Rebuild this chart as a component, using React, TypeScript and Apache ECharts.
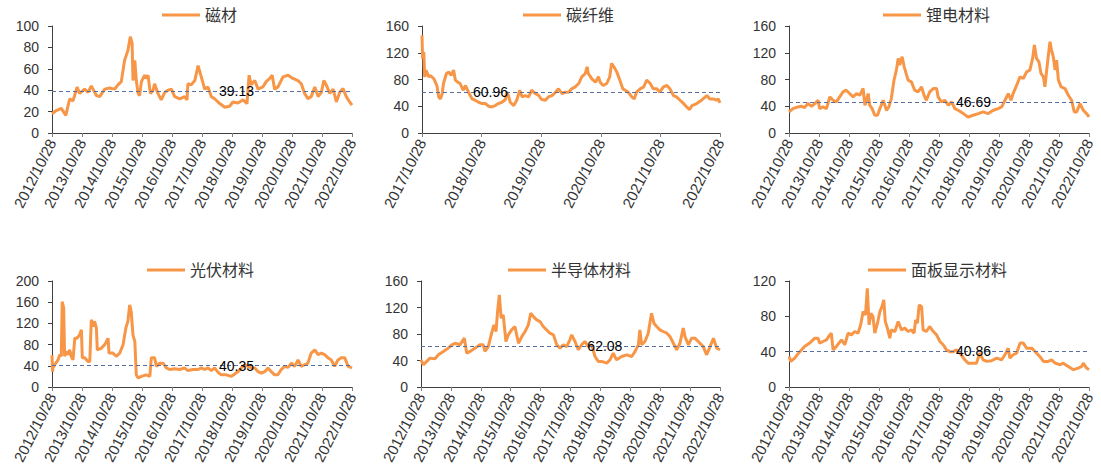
import React, { useEffect, useRef } from "react";
import * as echarts from "echarts";

// ---- data (t = years since the start date, value) ----
const names = ["磁材", "碳纤维", "锂电材料", "光伏材料", "半导体材料", "面板显示材料"];
const means = [39.13, 60.96, 46.69, 40.35, 62.08, 40.86];
const startYears = [2012, 2017, 2012, 2012, 2012, 2012];
const spans = [10, 5, 10, 10, 10, 10];
const yMaxes = [100, 160, 160, 200, 160, 120];
const yIntervals = [20, 40, 40, 40, 40, 40];
const meanLabelT = [6.15, 1.15, 6.15, 6.15, 6.15, 6.15];

const cimat: [number, number][] = [
  [0, 18], [0.14, 21], [0.31, 23], [0.46, 16.5], [0.59, 32], [0.7, 30], [0.84, 43], [0.92, 37],
  [1.09, 41], [1.2, 38], [1.31, 44], [1.48, 35], [1.59, 34], [1.76, 41], [1.92, 42], [2.09, 41],
  [2.2, 45], [2.31, 48], [2.42, 68], [2.53, 77], [2.61, 90], [2.67, 84], [2.7, 49], [2.76, 68],
  [2.81, 49], [2.87, 37], [2.92, 35], [2.98, 48], [3.09, 54], [3.14, 51], [3.2, 54], [3.28, 37],
  [3.37, 40], [3.42, 46], [3.53, 37], [3.64, 31], [3.76, 38], [3.87, 40], [3.98, 41], [4.09, 34],
  [4.26, 32], [4.42, 34], [4.5, 31], [4.53, 46], [4.64, 45], [4.76, 49], [4.87, 63], [4.98, 52],
  [5.09, 41], [5.2, 43], [5.31, 34], [5.42, 32], [5.59, 27.5], [5.76, 24], [5.92, 25], [6.03, 29],
  [6.2, 28], [6.37, 31], [6.5, 27.5], [6.57, 54], [6.64, 45], [6.76, 49], [6.87, 41], [7.03, 43],
  [7.14, 48], [7.26, 51], [7.34, 54], [7.42, 41], [7.53, 43], [7.7, 52.5], [7.87, 54], [8.03, 51],
  [8.2, 49], [8.31, 46], [8.42, 37], [8.53, 32], [8.64, 34], [8.76, 43], [8.87, 34], [8.98, 38],
  [9.06, 49], [9.14, 45], [9.26, 37], [9.37, 41], [9.48, 29], [9.59, 38], [9.7, 41.5], [9.81, 34],
  [9.92, 29], [10, 26],
];

const carbonFiber: [number, number][] = [
  [0, 146], [0.01, 111], [0.03, 121], [0.045, 84], [0.07, 94], [0.11, 84], [0.14, 86], [0.2, 81],
  [0.25, 71], [0.28, 54], [0.31, 51], [0.34, 59], [0.36, 74], [0.41, 89], [0.45, 91], [0.49, 86],
  [0.53, 94], [0.56, 79], [0.6, 76], [0.64, 74], [0.69, 64], [0.73, 71], [0.78, 61], [0.84, 51],
  [0.89, 49], [0.95, 46], [1.01, 44], [1.06, 44], [1.12, 40], [1.17, 39], [1.23, 41], [1.28, 44],
  [1.34, 46], [1.4, 50], [1.42, 61], [1.45, 56], [1.48, 46], [1.54, 41], [1.59, 49], [1.64, 64],
  [1.68, 54], [1.73, 56], [1.79, 54], [1.84, 64], [1.9, 59], [1.96, 56], [2.01, 50], [2.07, 49],
  [2.12, 54], [2.18, 56], [2.23, 60], [2.29, 66], [2.35, 59], [2.4, 61], [2.46, 61], [2.51, 66],
  [2.57, 69], [2.63, 74], [2.68, 84], [2.74, 89], [2.77, 99], [2.79, 89], [2.85, 81], [2.91, 76],
  [2.96, 84], [2.99, 76], [3.04, 71], [3.1, 74], [3.15, 84], [3.18, 104], [3.22, 99], [3.27, 91],
  [3.32, 79], [3.37, 66], [3.41, 64], [3.46, 61], [3.52, 54], [3.56, 51], [3.6, 61], [3.66, 66],
  [3.72, 69], [3.77, 79], [3.83, 74], [3.88, 66], [3.94, 66], [3.99, 61], [4.05, 69], [4.11, 71],
  [4.16, 66], [4.22, 56], [4.27, 54], [4.33, 49], [4.39, 44], [4.44, 39], [4.49, 35], [4.53, 41],
  [4.61, 44], [4.69, 49], [4.78, 56], [4.83, 51], [4.89, 51], [4.94, 49], [4.97, 51], [5, 45],
];

const lithium: [number, number][] = [
  [0, 31.5], [0.13, 36.5], [0.3, 39], [0.41, 40], [0.52, 38], [0.63, 44], [0.75, 40], [0.86, 44],
  [0.97, 49], [1.02, 36.5], [1.13, 39], [1.25, 36.5], [1.36, 54], [1.47, 49], [1.58, 46.5], [1.69, 54],
  [1.8, 61.5], [1.91, 64], [2.02, 59], [2.14, 54], [2.25, 59], [2.36, 56.5], [2.47, 66.5], [2.53, 41.5],
  [2.64, 59], [2.69, 41.5], [2.77, 36.5], [2.86, 26.5], [2.95, 26.5], [3.03, 36.5], [3.14, 49], [3.25, 34],
  [3.33, 39], [3.41, 51.5], [3.5, 79], [3.58, 94], [3.64, 111.5], [3.69, 101.5], [3.77, 114], [3.84, 99],
  [3.92, 86.5], [3.97, 79], [4.08, 76.5], [4.19, 64], [4.3, 61.5], [4.42, 69], [4.5, 56.5], [4.58, 49],
  [4.69, 61.5], [4.81, 66.5], [4.92, 66.5], [4.97, 54], [5.08, 46.5], [5.19, 49], [5.31, 41.5], [5.42, 46.5],
  [5.53, 36.5], [5.64, 34], [5.81, 29], [5.97, 24], [6.14, 26.5], [6.31, 29], [6.47, 31.5], [6.64, 29],
  [6.81, 34], [6.97, 36.5], [7.09, 39], [7.2, 49], [7.31, 59], [7.4, 49], [7.47, 59], [7.59, 71.5],
  [7.7, 84], [7.81, 81.5], [7.92, 91.5], [8.03, 94], [8.12, 111.5], [8.18, 131.5], [8.25, 111.5], [8.33, 106.5],
  [8.4, 89], [8.48, 84], [8.53, 69], [8.59, 94], [8.64, 114], [8.7, 136.5], [8.75, 124], [8.81, 114],
  [8.87, 94], [8.92, 109], [8.98, 79], [9.07, 69], [9.2, 66.5], [9.31, 56.5], [9.42, 49], [9.51, 31.5],
  [9.59, 31.5], [9.7, 44], [9.81, 34], [9.92, 29], [10, 24],
];

const photovoltaic: [number, number][] = [
  [0, 60], [0.02, 29], [0.03, 36], [0.09, 42], [0.2, 51], [0.26, 61], [0.31, 58], [0.34, 161],
  [0.39, 149], [0.42, 58], [0.46, 67], [0.53, 61], [0.59, 70], [0.64, 58], [0.7, 51], [0.76, 92],
  [0.83, 92], [0.92, 98], [0.98, 108], [1.01, 55], [1.09, 55], [1.2, 48], [1.26, 48], [1.31, 127],
  [1.37, 114], [1.42, 124], [1.48, 111], [1.51, 70], [1.64, 73], [1.76, 80], [1.87, 92], [1.9, 64],
  [2.03, 64], [2.14, 58], [2.26, 64], [2.37, 80], [2.46, 111], [2.53, 124], [2.59, 155], [2.64, 142],
  [2.7, 98], [2.76, 86], [2.81, 23], [2.87, 17], [2.98, 20], [3.14, 23], [3.26, 20], [3.31, 55],
  [3.42, 55], [3.48, 39], [3.59, 45], [3.7, 45], [3.81, 36], [3.92, 33], [4.09, 34.5], [4.26, 33],
  [4.42, 36], [4.53, 31], [4.7, 33], [4.87, 33], [4.98, 36], [5.09, 33], [5.2, 36], [5.31, 31],
  [5.42, 36], [5.53, 28], [5.64, 23], [5.81, 23], [5.98, 20], [6.09, 24.5], [6.2, 29], [6.31, 36],
  [6.42, 42], [6.53, 39], [6.64, 36], [6.76, 36], [6.87, 29], [6.98, 26], [7.09, 29], [7.2, 36],
  [7.31, 29], [7.42, 23], [7.53, 23], [7.64, 33], [7.76, 39], [7.87, 37], [7.98, 45], [8.09, 39],
  [8.2, 51], [8.31, 39], [8.42, 42], [8.53, 45], [8.64, 64], [8.76, 70], [8.87, 61], [8.98, 64],
  [9.09, 61], [9.2, 55], [9.31, 51], [9.42, 39], [9.53, 51], [9.64, 55], [9.76, 55], [9.87, 39],
  [10, 36],
];

const semiconductor: [number, number][] = [
  [0, 41], [0.08, 33.6], [0.19, 38.6], [0.3, 43.6], [0.47, 42.6], [0.58, 48.6], [0.75, 53.7], [0.91, 58.7],
  [1.03, 63.7], [1.14, 66], [1.3, 63.7], [1.45, 73.7], [1.53, 51], [1.64, 53.7], [1.81, 58.7], [1.97, 63.7],
  [2.08, 63.7], [2.14, 53.7], [2.25, 61], [2.36, 81], [2.44, 93.8], [2.51, 83.8], [2.56, 113.8], [2.62, 138.9],
  [2.68, 103.8], [2.75, 108.8], [2.84, 68.7], [2.92, 78.7], [3.03, 86.3], [3.14, 91.3], [3.26, 66], [3.37, 76],
  [3.48, 83.8], [3.59, 93.8], [3.67, 111.3], [3.76, 106.3], [3.87, 101.3], [3.98, 98.8], [4.09, 91.3], [4.2, 86.3],
  [4.31, 81.2], [4.43, 78.7], [4.54, 63.7], [4.65, 58.7], [4.76, 63.7], [4.87, 61], [4.98, 71.2], [5.04, 78.7],
  [5.15, 68.7], [5.26, 56.2], [5.37, 63.7], [5.48, 68.7], [5.6, 61], [5.71, 63.7], [5.82, 46], [5.93, 38.6],
  [6.04, 38.6], [6.21, 36], [6.32, 41], [6.43, 51], [6.54, 41], [6.71, 46], [6.88, 48.6], [7.05, 46],
  [7.16, 53.7], [7.27, 63.7], [7.32, 86.3], [7.38, 63.7], [7.49, 68.7], [7.6, 81.2], [7.71, 111.3], [7.79, 96.3],
  [7.88, 91.3], [7.99, 86.3], [8.1, 83.8], [8.22, 81.2], [8.33, 76], [8.44, 66], [8.55, 56.2], [8.66, 66],
  [8.77, 88.8], [8.83, 76], [8.94, 63.7], [9.05, 73.7], [9.16, 73.7], [9.33, 66], [9.44, 61], [9.55, 48.6],
  [9.67, 61], [9.78, 73.7], [9.89, 58.7], [10, 56.2],
];

const display: [number, number][] = [
  [0, 34.6], [0.06, 29], [0.19, 32.7], [0.36, 40], [0.52, 45.9], [0.69, 49.7], [0.86, 55.3], [0.97, 55.3],
  [1.02, 49.7], [1.13, 51.5], [1.25, 53.4], [1.36, 59], [1.41, 60.9], [1.47, 42], [1.58, 45.9], [1.75, 53.4],
  [1.86, 47.8], [1.97, 60.9], [2.08, 59], [2.19, 62.8], [2.3, 60.9], [2.39, 70.4], [2.47, 85.4], [2.55, 81.6],
  [2.61, 111.7], [2.67, 70.4], [2.73, 83.5], [2.8, 79.8], [2.86, 60.9], [2.95, 72.2], [3.03, 85.4], [3.1, 91],
  [3.16, 98.6], [3.21, 74.1], [3.28, 66.6], [3.36, 55.3], [3.41, 64.7], [3.53, 62.8], [3.64, 74.1], [3.75, 64.7],
  [3.86, 66.6], [3.97, 62.8], [4.08, 64.7], [4.17, 60.9], [4.22, 76], [4.28, 72.2], [4.34, 92.9], [4.42, 91],
  [4.47, 64.7], [4.58, 62.8], [4.69, 68.5], [4.81, 62.8], [4.92, 59], [5.03, 51.5], [5.14, 47.8], [5.25, 42],
  [5.36, 40], [5.47, 40], [5.58, 42], [5.7, 38.4], [5.86, 30.8], [5.97, 27], [6.08, 27], [6.25, 27],
  [6.36, 38.4], [6.47, 30.8], [6.59, 29], [6.75, 29.7], [6.92, 32.7], [7.09, 30.8], [7.2, 36.5], [7.31, 44],
  [7.36, 32.7], [7.47, 36.5], [7.59, 38.4], [7.7, 49.7], [7.81, 49.7], [7.92, 44], [8.09, 44], [8.25, 38.4],
  [8.36, 34.6], [8.48, 29], [8.64, 29], [8.75, 30.8], [8.87, 27], [9.04, 25.2], [9.14, 27], [9.31, 23.3],
  [9.48, 19.6], [9.64, 21.4], [9.76, 23.3], [9.81, 27], [9.92, 21.4], [10, 19.6],
];

const seriesData = [cimat, carbonFiber, lithium, photovoltaic, semiconductor, display];

// ---- layout ----
const grids = [
  { left: 52, top: 26, width: 300, height: 107 },
  { left: 422, top: 26, width: 298, height: 107 },
  { left: 789, top: 26, width: 300, height: 107 },
  { left: 52, top: 281, width: 300, height: 106 },
  { left: 421, top: 281, width: 299, height: 106 },
  { left: 789, top: 281, width: 300, height: 106 },
];
const legendPos = [
  { left: 162, top: 7 },
  { left: 523, top: 7 },
  { left: 883, top: 7 },
  { left: 147, top: 262 },
  { left: 508, top: 262 },
  { left: 868, top: 262 },
];

const ORANGE = "#F79646";
const AXIS = "#404040";
const TEXT = "#333333";
const MEAN = "#5A6F9E";
const FONT = '"Liberation Sans", Arial, "Noto Sans CJK SC", sans-serif';

export default function App() {
  const ref = useRef<HTMLDivElement>(null);
  useEffect(() => {
    if (!ref.current) return;
    const chart = echarts.init(ref.current, undefined, { renderer: "svg" });
    const option: any = {
      animation: false,
      backgroundColor: "#ffffff",
      textStyle: { fontFamily: FONT },
      grid: grids.map((g) => ({ ...g, containLabel: false })),
      legend: names.map((n, i) => ({
        data: [n],
        left: legendPos[i].left,
        top: legendPos[i].top,
        padding: 0,
        icon: "rect",
        itemWidth: 38,
        itemHeight: 3,
        itemGap: 4,
        textStyle: { fontSize: 16, color: TEXT, fontFamily: FONT },
      })),
      xAxis: names.map((_, i) => ({
        type: "value",
        gridIndex: i,
        min: 0,
        max: spans[i],
        interval: 1,
        axisLine: { show: true, lineStyle: { color: AXIS, width: 1 } },
        axisTick: { show: true, length: 4, lineStyle: { color: "#808080" } },
        splitLine: { show: false },
        axisLabel: {
          rotate: 63,
          fontSize: 15,
          color: TEXT,
          margin: 7,
          fontFamily: FONT,
          formatter: (v: number) => `${startYears[i] + Math.round(v)}/10/28`,
        },
      })),
      yAxis: names.map((_, i) => ({
        type: "value",
        gridIndex: i,
        min: 0,
        max: yMaxes[i],
        interval: yIntervals[i],
        axisLine: { show: true, lineStyle: { color: AXIS, width: 1 } },
        axisTick: { show: true, length: 4, lineStyle: { color: AXIS } },
        splitLine: { show: false },
        axisLabel: { fontSize: 14, color: TEXT, margin: 13, fontFamily: FONT },
      })),
      series: names.map((n, i) => ({
        name: n,
        type: "line",
        xAxisIndex: i,
        yAxisIndex: i,
        data: seriesData[i],
        showSymbol: false,
        symbol: "none",
        lineStyle: { color: ORANGE, width: 3 },
        itemStyle: { color: ORANGE },
        markLine: {
          silent: true,
          symbol: "none",
          label: { show: false },
          lineStyle: { color: MEAN, type: [4, 3], width: 1.2 },
          data: [{ yAxis: means[i] }],
        },
        markPoint: {
          silent: true,
          symbol: "circle",
          symbolSize: 0,
          label: {
            show: true,
            position: "inside",
            color: "#000",
            fontSize: 14,
            fontFamily: FONT,
            formatter: means[i].toFixed(2),
          },
          data: [{ coord: [meanLabelT[i], means[i]] }],
        },
      })),
    };
    chart.setOption(option);
    return () => chart.dispose();
  }, []);
  return (
    <div
      ref={ref}
      style={{ position: "absolute", left: 0, top: 0, width: 1101, height: 470, background: "#fff" }}
    />
  );
}
